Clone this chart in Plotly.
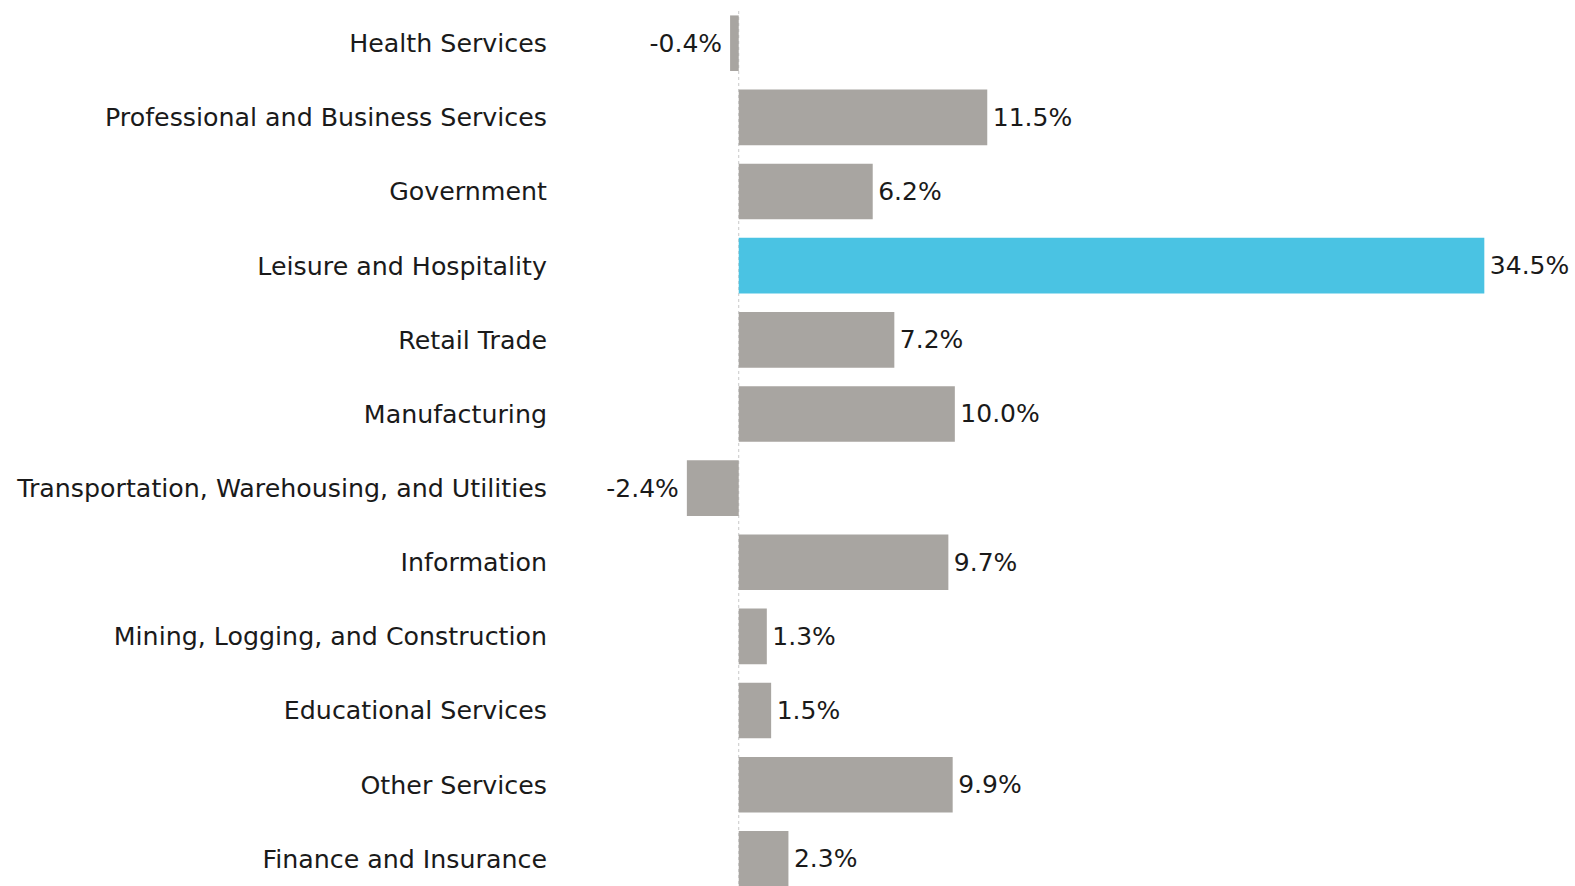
import plotly.graph_objects as go

categories = [
    "Health Services",
    "Professional and Business Services",
    "Government",
    "Leisure and Hospitality",
    "Retail Trade",
    "Manufacturing",
    "Transportation, Warehousing, and Utilities",
    "Information",
    "Mining, Logging, and Construction",
    "Educational Services",
    "Other Services",
    "Finance and Insurance",
]
values = [-0.4, 11.5, 6.2, 34.5, 7.2, 10.0, -2.4, 9.7, 1.3, 1.5, 9.9, 2.3]
highlight = "Leisure and Hospitality"

GRAY = "#A8A5A1"
BLUE = "#4AC3E3"
colors = [BLUE if c == highlight else GRAY for c in categories]
THIN = "\u2009"
HAIR = "\u200a"
labels = [(f"{v:.1f}%" + THIN) if v < 0 else (HAIR + f"{v:.1f}%") for v in values]

FONT = "DejaVu Sans"
SIZE = 25
TICK_SIZE = 25.3

fig = go.Figure(
    go.Bar(
        x=values,
        y=categories,
        orientation="h",
        marker=dict(color=colors, line=dict(width=0)),
        text=labels,
        textposition="outside",
        textfont=dict(family=FONT, size=SIZE, color="#1a1a1a"),
        cliponaxis=False,
        width=0.75,
    )
)

fig.add_shape(
    type="line", xref="x", yref="paper",
    x0=0, x1=0, y0=0, y1=0.99,
    line=dict(color="#C8C8C8", width=1, dash="dot"),
    layer="below",
)

fig.update_layout(
    width=1582,
    height=890,
    margin=dict(l=560, r=0, t=0, b=0),
    paper_bgcolor="white",
    plot_bgcolor="white",
    showlegend=False,
    font=dict(family=FONT, size=SIZE, color="#1a1a1a"),
    xaxis=dict(
        range=[-8.27, 39.02],
        visible=False,
        showgrid=False,
        zeroline=False,
    ),
    yaxis=dict(
        categoryorder="array",
        categoryarray=categories,
        range=[11.42, -0.583],
        showgrid=False,
        zeroline=False,
        showline=False,
        ticks="",
        ticklabelstandoff=12,
        tickfont=dict(family=FONT, size=TICK_SIZE, color="#1a1a1a"),
    ),
)

fig.write_html(
    "out.html",
    config={"displayModeBar": False},
    post_script="document.body.style.margin='0';document.body.style.overflow='hidden';",
)
